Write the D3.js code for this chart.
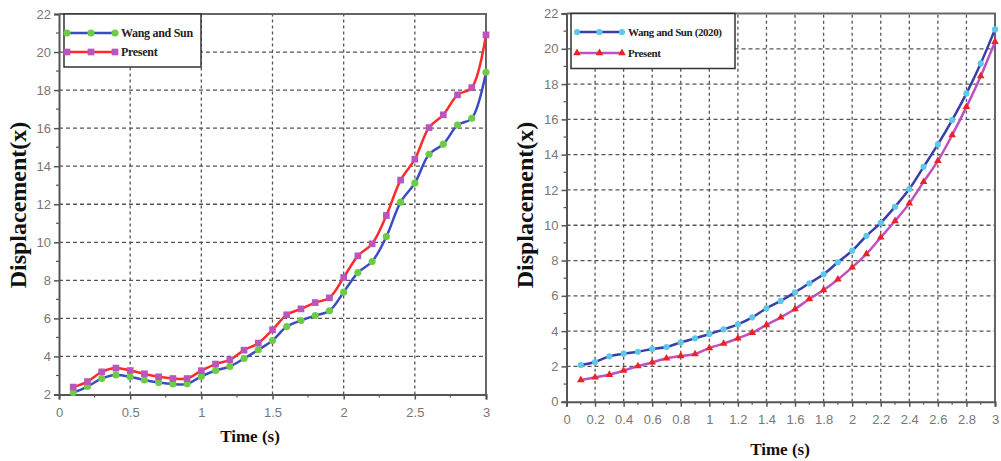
<!DOCTYPE html>
<html lang="en">
<head>
<meta charset="UTF-8"/>
<title>Displacement vs Time</title>
<script src="https://d3js.org/d3.v7.min.js"></script>
<style>
    body { margin: 0; background: #fff; }
    svg { display: block; }
</style>
</head>
<body>
<div id="chart"></div>
<script>
    // time points (s)
    var timeSteps = [0.1, 0.2, 0.3, 0.4, 0.5, 0.6, 0.7, 0.8, 0.9, 1.0,
                     1.1, 1.2, 1.3, 1.4, 1.5, 1.6, 1.7, 1.8, 1.9, 2.0,
                     2.1, 2.2, 2.3, 2.4, 2.5, 2.6, 2.7, 2.8, 2.9, 3.0];

    // left panel
    var leftWang = [2.10, 2.42, 2.84, 3.03, 2.93, 2.76, 2.63, 2.55, 2.56, 2.95,
                    3.26, 3.47, 3.89, 4.35, 4.84, 5.57, 5.89, 6.15, 6.40, 7.38,
                    8.41, 8.99, 10.30, 12.11, 13.11, 14.63, 15.16, 16.16, 16.52, 18.94];
    var leftPresent = [2.39, 2.68, 3.19, 3.39, 3.26, 3.09, 2.93, 2.84, 2.84, 3.25,
                       3.60, 3.82, 4.33, 4.70, 5.40, 6.19, 6.50, 6.83, 7.08, 8.15,
                       9.29, 9.92, 11.41, 13.27, 14.37, 16.03, 16.70, 17.75, 18.13, 20.90];
    var leftXTicks = [0, 0.5, 1, 1.5, 2, 2.5, 3];
    var leftXLabels = ["0", "0.5", "1", "1.5", "2", "2.5", "3"];
    var leftYTicks = [2, 4, 6, 8, 10, 12, 14, 16, 18, 20, 22];

    // right panel
    var rightWang = [2.08, 2.25, 2.57, 2.72, 2.83, 2.99, 3.10, 3.36, 3.59, 3.84,
                     4.10, 4.38, 4.78, 5.29, 5.71, 6.20, 6.71, 7.22, 7.90, 8.56,
                     9.40, 10.14, 11.05, 12.05, 13.31, 14.58, 15.96, 17.47, 19.17, 21.10];
    var rightPresent = [1.23, 1.38, 1.53, 1.76, 2.02, 2.23, 2.46, 2.59, 2.70, 3.04,
                        3.29, 3.59, 3.91, 4.35, 4.78, 5.25, 5.82, 6.33, 6.93, 7.61,
                        8.37, 9.31, 10.24, 11.24, 12.46, 13.65, 15.11, 16.71, 18.45, 20.40];
    var rightXTicks = [0, 0.2, 0.4, 0.6, 0.8, 1, 1.2, 1.4, 1.6, 1.8, 2, 2.2, 2.4, 2.6, 2.8, 3];
    var rightXLabels = ["0", "0.2", "0.4", "0.6", "0.8", "1", "1.2", "1.4", "1.6", "1.8",
                        "2", "2.2", "2.4", "2.6", "2.8", "3"];
    var rightYTicks = [0, 2, 4, 6, 8, 10, 12, 14, 16, 18, 20, 22];

    var legendLeft = ["Wang and Sun", "Present"];
    var legendRight = ["Wang and Sun (2020)", "Present"];

    var width = 1001, height = 461;

    var svg = d3.select("#chart").append("svg")
        .attr("width", width)
        .attr("height", height);

    function drawPanel(p) {
        var x = d3.scaleLinear().domain([0, 3]).range([p.x0, p.x1]);
        var y = d3.scaleLinear().domain(p.yDomain).range([p.y0, p.y1]);
        var g = svg.append("g");

        // grid
        g.selectAll("line.vgrid")
            .data(p.xTicks.filter(function(d) { return d > 0 && d < 3; }))
            .enter().append("line")
            .attr("x1", function(d) { return x(d); })
            .attr("x2", function(d) { return x(d); })
            .attr("y1", p.y0).attr("y2", p.y1)
            .attr("stroke", "#555").attr("stroke-width", 1.3)
            .attr("stroke-dasharray", "3,3");
        g.selectAll("line.hgrid")
            .data(p.yTicks.filter(function(d) { return d > p.yDomain[0] && d < p.yDomain[1]; }))
            .enter().append("line")
            .attr("x1", p.x0).attr("x2", p.x1)
            .attr("y1", function(d) { return y(d); })
            .attr("y2", function(d) { return y(d); })
            .attr("stroke", "#555").attr("stroke-width", 1.3)
            .attr("stroke-dasharray", "4,3");

        // axes
        var xAxis = d3.axisBottom(x).tickValues(p.xTicks)
            .tickFormat(function(d, i) { return p.xLabels[i]; })
            .tickSize(5).tickPadding(8);
        var gx = g.append("g")
            .attr("transform", "translate(0," + p.y0 + ")")
            .call(xAxis);
        var yAxis = d3.axisLeft(y).tickValues(p.yTicks).tickSize(5).tickPadding(3);
        var gy = g.append("g")
            .attr("transform", "translate(" + p.x0 + ",0)")
            .call(yAxis);
        [gx, gy].forEach(function(a) {
            a.select(".domain").attr("stroke", "#555").attr("stroke-width", 2);
            a.selectAll(".tick line").attr("stroke", "#555").attr("stroke-width", 1.5);
            a.selectAll(".tick text")
                .attr("fill", "#777")
                .attr("font-family", "Liberation Sans, Arial, sans-serif")
                .attr("font-size", "13px");
        });

        // minor ticks
        g.selectAll("line.yminor")
            .data(p.yTicks.slice(0, -1))
            .enter().append("line")
            .attr("x1", p.x0 - 3).attr("x2", p.x0)
            .attr("y1", function(d) { return y(d + 1); })
            .attr("y2", function(d) { return y(d + 1); })
            .attr("stroke", "#555").attr("stroke-width", 1.2);
        g.selectAll("line.xminor")
            .data(p.xTicks.slice(0, -1))
            .enter().append("line")
            .attr("x1", function(d, i) { return x((d + p.xTicks[i + 1]) / 2); })
            .attr("x2", function(d, i) { return x((d + p.xTicks[i + 1]) / 2); })
            .attr("y1", p.y0).attr("y2", p.y0 + 3)
            .attr("stroke", "#555").attr("stroke-width", 1.2);

        // frame top / right
        g.append("path")
            .attr("d", "M" + p.x0 + "," + p.y1 + "H" + p.x1 + "V" + p.y0)
            .attr("fill", "none").attr("stroke", "#666").attr("stroke-width", 2);

        // series
        var line = d3.line()
            .x(function(d, i) { return x(timeSteps[i]); })
            .y(function(d) { return y(d); })
            .curve(d3.curveCatmullRom.alpha(0.5));

        p.series.forEach(function(s) {
            g.append("path")
                .datum(s.values)
                .attr("d", line)
                .attr("fill", "none")
                .attr("stroke", s.line)
                .attr("stroke-width", 2.5);
            var sym = d3.symbol().type(s.shape).size(s.size);
            g.selectAll(null)
                .data(s.values)
                .enter().append("path")
                .attr("d", sym)
                .attr("transform", function(d, i) {
                    return "translate(" + x(timeSteps[i]) + "," + y(d) + ")";
                })
                .attr("fill", s.marker);
        });

        // legend
        var lg = g.append("g");
        lg.append("rect")
            .attr("x", p.legend.x).attr("y", p.y1)
            .attr("width", p.legend.w).attr("height", p.legend.h)
            .attr("fill", "#fff").attr("stroke", "#333").attr("stroke-width", 1.5);
        p.series.forEach(function(s, i) {
            var ly = p.legend.rows[i];
            var lx0 = p.legend.x + p.legend.pad;
            var lx1 = lx0 + p.legend.len;
            lg.append("line")
                .attr("x1", lx0).attr("x2", lx1)
                .attr("y1", ly).attr("y2", ly)
                .attr("stroke", s.line).attr("stroke-width", 2.5);
            [lx0, (lx0 + lx1) / 2, lx1].forEach(function(mx) {
                lg.append("path")
                    .attr("d", d3.symbol().type(s.shape).size(s.size)())
                    .attr("transform", "translate(" + mx + "," + ly + ")")
                    .attr("fill", s.marker);
            });
            lg.append("text")
                .attr("x", lx1 + 6).attr("y", ly + 4)
                .attr("font-family", "Liberation Serif, Times New Roman, serif")
                .attr("font-weight", "bold")
                .attr("font-size", p.legend.font)
                .attr("letter-spacing", p.legend.spacing)
                .attr("fill", "#222")
                .text(p.legendNames[i]);
        });

        // axis titles
        g.append("text")
            .attr("text-anchor", "middle")
            .attr("x", p.xTitle[0]).attr("y", p.xTitle[1])
            .attr("font-family", "Liberation Serif, Times New Roman, serif")
            .attr("font-weight", "bold")
            .attr("font-size", "17px")
            .attr("fill", "#111")
            .text("Time (s)");
        g.append("text")
            .attr("text-anchor", "middle")
            .attr("transform", "translate(" + p.yTitle[0] + "," + p.yTitle[1] + ")rotate(-90)")
            .attr("font-family", "Liberation Serif, Times New Roman, serif")
            .attr("font-weight", "bold")
            .attr("font-size", "24px")
            .attr("fill", "#111")
            .text("Displacement(x)");
    }

    drawPanel({
        x0: 59, x1: 486, y0: 394.5, y1: 14,
        yDomain: [2, 22],
        xTicks: leftXTicks, xLabels: leftXLabels, yTicks: leftYTicks,
        legendNames: legendLeft,
        legend: { x: 64, w: 137, h: 53, pad: 3, len: 48, rows: [33, 52], font: "12px", spacing: "-0.3" },
        xTitle: [250, 442], yTitle: [26, 205],
        series: [
            { values: leftWang, line: "#3a4cc4", marker: "#6ccc44", shape: d3.symbolCircle, size: 40 },
            { values: leftPresent, line: "#ff2a2a", marker: "#bb55bb", shape: d3.symbolSquare, size: 45 }
        ]
    });

    drawPanel({
        x0: 566.5, x1: 995, y0: 401.7, y1: 13.5,
        yDomain: [0, 22],
        xTicks: rightXTicks, xLabels: rightXLabels, yTicks: rightYTicks,
        legendNames: legendRight,
        legend: { x: 571, w: 164, h: 55, pad: 6, len: 45, rows: [32, 53], font: "11px", spacing: "-0.4" },
        xTitle: [780, 455], yTitle: [533, 205],
        series: [
            { values: rightWang, line: "#3a3fa8", marker: "#5cc8ea", shape: d3.symbolCircle, size: 30 },
            { values: rightPresent, line: "#c050c0", marker: "#ee2222", shape: d3.symbolTriangle, size: 25 }
        ]
    });
</script>
</body>
</html>
